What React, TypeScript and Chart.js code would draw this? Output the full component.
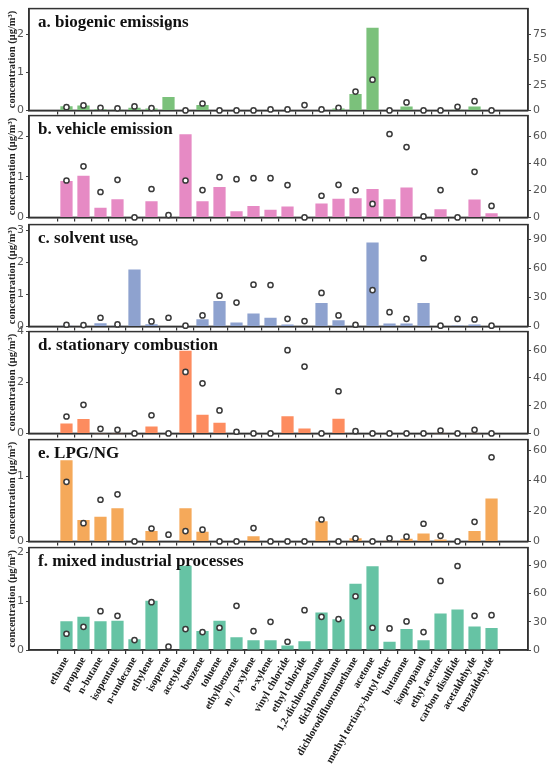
import React, { useEffect, useRef } from 'react';
import { Chart, registerables } from 'chart.js';

Chart.register(...registerables);

const CATEGORIES = [
  'ethane', 'propane', 'n-butane', 'isopentane', 'n-undecane', 'ethylene', 'isoprene',
  'acetylene', 'benzene', 'toluene', 'ethylbenzene', 'm / p-xylene', 'o-xylene',
  'vinyl chloride', 'ethyl chloride', '1,2-dichloroethane', 'dichloromethane',
  'dichlorodifluoromethane', 'acetone', 'methyl tertiary-butyl ether', 'butanone',
  'isopropanol', 'ethyl acetate', 'carbon disulfide', 'acetaldehyde', 'benzaldehyde',
];

const PANEL_TITLES = [
  'a. biogenic emissions',
  'b. vehicle emission',
  'c. solvent use',
  'd. stationary combustion',
  'e. LPG/NG',
  'f. mixed industrial processes',
];

// concentration (μg/m³) – bars, left axis
const BIOGENIC_CONC = [0.11, 0.13, 0.03, 0.02, 0.07, 0.05, 0.35, 0, 0.14, 0, 0, 0, 0, 0.01, 0.01, 0.01, 0.05, 0.43, 2.17, 0, 0.1, 0.01, 0.01, 0.02, 0.1, 0];
const VEHICLE_CONC = [0.9, 1.03, 0.24, 0.45, 0, 0.4, 0, 2.05, 0.4, 0.75, 0.15, 0.28, 0.19, 0.27, 0, 0.34, 0.46, 0.47, 0.7, 0.45, 0.74, 0, 0.2, 0, 0.44, 0.1];
const SOLVENT_CONC = [0.02, 0.01, 0.1, 0.02, 1.78, 0.07, 0.01, 0, 0.22, 0.79, 0.12, 0.4, 0.27, 0.06, 0.01, 0.73, 0.19, 0.02, 2.62, 0.09, 0.09, 0.73, 0, 0.03, 0.06, 0];
const COMBUSTION_CONC = [0.39, 0.57, 0.01, 0.01, 0, 0.27, 0, 3.25, 0.73, 0.42, 0.02, 0, 0, 0.67, 0.19, 0, 0.58, 0.02, 0, 0, 0, 0, 0.01, 0, 0.01, 0];
const LPG_CONC = [1.25, 0.33, 0.38, 0.51, 0, 0.16, 0, 0.51, 0.15, 0, 0, 0.08, 0, 0, 0, 0.31, 0, 0.05, 0, 0.01, 0.04, 0.12, 0.03, 0, 0.16, 0.66];
const INDUSTRIAL_CONC = [0.59, 0.68, 0.59, 0.6, 0.22, 1.01, 0, 1.73, 0.39, 0.6, 0.26, 0.2, 0.2, 0.09, 0.18, 0.77, 0.63, 1.36, 1.72, 0.17, 0.43, 0.2, 0.75, 0.83, 0.48, 0.45];

// contribution (%) – circles, right axis
const BIOGENIC_PCT = [3.2, 4.9, 2.6, 2, 3.9, 2.3, 82, 0, 6.8, 0, 0, 0, 1, 1, 5.2, 1, 2.6, 18.5, 30.2, 0, 7.8, 0, 0, 3.6, 9.1, 0];
const VEHICLE_PCT = [27.3, 37.8, 18.8, 27.8, 0, 21, 1.7, 27.3, 20.2, 29.8, 28.3, 29, 29, 23.9, 0, 16, 24.1, 20, 10, 61.7, 52, 0.7, 20.2, 0, 33.7, 8.5];
const SOLVENT_PCT = [1.7, 1.4, 8.9, 2, 86.7, 5.1, 8.9, 0.7, 11.3, 31.7, 24.6, 43, 42.7, 7.8, 5.5, 34.5, 11.3, 1.7, 37.5, 14.7, 7.8, 70.3, 0.7, 7.8, 7.2, 0.7];
const COMBUSTION_PCT = [12.2, 20.6, 3.3, 2.6, 0, 13.1, 0, 44.3, 36.1, 16.6, 1.2, 0, 0, 60, 48.2, 0, 30.4, 1.6, 0, 0, 0, 0, 2.1, 0, 2.6, 0];
const LPG_PCT = [39.2, 12, 27.4, 31, 0, 8.5, 4.4, 6.8, 7.7, 0, 0, 8.8, 0, 0, 0, 14.4, 0, 2, 0, 2, 3.1, 11.6, 3.7, 0, 12.9, 55.4];
const INDUSTRIAL_PCT = [17.3, 24.7, 41.3, 36.4, 10.6, 50.9, 3.5, 22.3, 19.1, 23.7, 47, 20.1, 30, 8.8, 42.4, 35.3, 32.9, 57.2, 23.7, 23, 30.4, 19.1, 73.5, 89.4, 36.4, 37.1];

const CONC = [BIOGENIC_CONC, VEHICLE_CONC, SOLVENT_CONC, COMBUSTION_CONC, LPG_CONC, INDUSTRIAL_CONC];
const PCT = [BIOGENIC_PCT, VEHICLE_PCT, SOLVENT_PCT, COMBUSTION_PCT, LPG_PCT, INDUSTRIAL_PCT];

const LEFT_MAX = [2.67, 2.51, 3.18, 4.0, 1.57, 2.1];
const RIGHT_MAX = [100, 75.3, 105, 73.4, 67, 109];
const LEFT_TICKS = [[0, 1, 2], [0, 1, 2], [0, 1, 2, 3], [0, 2, 4], [0, 1], [0, 1, 2]];
const RIGHT_TICKS = [[0, 25, 50, 75], [0, 20, 40, 60], [0, 30, 60, 90], [0, 20, 40, 60], [0, 20, 40, 60], [0, 30, 60, 90]];

const BAR_COLORS = ['#7bc17b', '#e68ac4', '#8ea2cf', '#fd8c5f', '#f5a95a', '#66c3a4'];

const PANEL_TOPS = [8, 115, 224, 331, 439, 547];
const AREA_H = 103;
const PAD = 8;
const PAGE_H = 768;
const X_MIN = -1.64;
const X_MAX = 26.58;

const panelPlugin = {
  id: 'panelDeco',
  beforeDatasetsDraw(chart: any) {
    const { ctx, chartArea } = chart;
    const { left, top, right, bottom } = chartArea;
    ctx.save();
    ctx.strokeStyle = '#333';
    ctx.lineWidth = 1.5;
    ctx.strokeRect(left, top, right - left, bottom - top);
    ctx.restore();
  },
  afterDatasetsDraw(chart: any, _args: any, opts: any) {
    const { ctx, chartArea } = chart;
    ctx.save();
    ctx.fillStyle = '#111';
    ctx.font = 'bold 17px "Liberation Serif", "Times New Roman", serif';
    ctx.textAlign = 'left';
    ctx.textBaseline = 'alphabetic';
    ctx.fillText(opts.title || '', chartArea.left + 9, chartArea.top + 18);
    ctx.restore();
  },
};

function makeConfig(i: number, isLast: boolean, canvasH: number): any {
  const xAxisH = canvasH - PAD - AREA_H;
  return {
    type: 'bar',
    data: {
      datasets: [
        {
          type: 'line',
          data: PCT[i].map((v, k) => ({ x: k, y: v })),
          xAxisID: 'x',
          yAxisID: 'y2',
          showLine: false,
          pointRadius: 2.6,
          pointHoverRadius: 2.6,
          pointBorderWidth: 1.5,
          pointBorderColor: '#3a3a3a',
          pointBackgroundColor: '#ffffff',
          borderColor: '#3a3a3a',
          backgroundColor: '#ffffff',
          clip: false,
          order: 0,
        },
        {
          type: 'bar',
          data: CONC[i].map((v, k) => ({ x: k, y: v })),
          xAxisID: 'x',
          yAxisID: 'y',
          backgroundColor: BAR_COLORS[i],
          borderWidth: 0,
          barPercentage: 0.72,
          categoryPercentage: 1,
          order: 1,
        },
      ],
    },
    options: {
      responsive: false,
      animation: false,
      events: [],
      layout: { padding: { top: PAD, bottom: 0, left: 0, right: 0 } },
      plugins: {
        legend: { display: false },
        tooltip: { enabled: false },
        panelDeco: { title: PANEL_TITLES[i] },
      },
      scales: {
        x: {
          type: 'linear',
          position: 'bottom',
          min: X_MIN,
          max: X_MAX,
          afterBuildTicks: (s: any) => {
            s.ticks = CATEGORIES.map((_, k) => ({ value: k }));
          },
          afterFit: (s: any) => {
            s.height = xAxisH;
          },
          grid: {
            display: true,
            drawOnChartArea: false,
            drawTicks: true,
            tickLength: 4,
            color: '#333',
            lineWidth: 1.2,
          },
          border: { display: true, color: '#333', width: 1.5 },
          ticks: {
            display: isLast,
            autoSkip: false,
            minRotation: 60,
            maxRotation: 60,
            padding: 1,
            color: '#1a1a1a',
            font: { family: '"Liberation Serif", "Times New Roman", serif', size: 10.5, weight: 'bold' },
            callback: (v: any) => CATEGORIES[Math.round(Number(v))] ?? '',
          },
        },
        y: {
          type: 'linear',
          position: 'left',
          min: 0,
          max: LEFT_MAX[i],
          afterBuildTicks: (s: any) => {
            s.ticks = LEFT_TICKS[i].map((v) => ({ value: v }));
          },
          afterFit: (s: any) => {
            s.width = 29;
          },
          grid: { display: true, drawOnChartArea: false, drawTicks: true, tickLength: 3, color: '#444' },
          border: { display: true, color: '#333', width: 1.5 },
          ticks: {
            color: '#555',
            padding: 2,
            font: { family: '"DejaVu Sans", sans-serif', size: 11 },
          },
          title: {
            display: true,
            text: 'concentration (μg/m³)',
            color: '#222',
            font: { family: '"Liberation Serif", "Times New Roman", serif', size: 10.5, weight: 'bold' },
            padding: { top: 6, bottom: 0 },
          },
        },
        y2: {
          type: 'linear',
          position: 'right',
          min: 0,
          max: RIGHT_MAX[i],
          afterBuildTicks: (s: any) => {
            s.ticks = RIGHT_TICKS[i].map((v) => ({ value: v }));
          },
          afterFit: (s: any) => {
            s.width = 22;
          },
          grid: { display: true, drawOnChartArea: false, drawTicks: true, tickLength: 3, color: '#444' },
          border: { display: true, color: '#333', width: 1.5 },
          ticks: {
            color: '#555',
            padding: 2,
            font: { family: '"DejaVu Sans", sans-serif', size: 11 },
          },
        },
      },
    },
    plugins: [panelPlugin],
  };
}

export default function App() {
  const refs = useRef<(HTMLCanvasElement | null)[]>([]);

  const heights = PANEL_TOPS.map((t, i) =>
    i === PANEL_TOPS.length - 1 ? PAGE_H - (t - PAD) : AREA_H + PAD + 8
  );

  useEffect(() => {
    const charts: Chart[] = [];
    PANEL_TOPS.forEach((_, i) => {
      const c = refs.current[i];
      if (!c) return;
      const isLast = i === PANEL_TOPS.length - 1;
      charts.push(new Chart(c, makeConfig(i, isLast, heights[i])));
    });
    return () => charts.forEach((ch) => ch.destroy());
  }, []);

  return (
    <div
      style={{
        position: 'absolute',
        left: 0,
        top: 0,
        width: 550,
        height: PAGE_H,
        background: '#fff',
        overflow: 'hidden',
      }}
    >
      {PANEL_TOPS.map((t, i) => (
        <canvas
          key={i}
          ref={(el) => {
            refs.current[i] = el;
          }}
          width={550}
          height={heights[i]}
          style={{ position: 'absolute', left: 0, top: t - PAD, width: 550, height: heights[i] }}
        />
      ))}
    </div>
  );
}
